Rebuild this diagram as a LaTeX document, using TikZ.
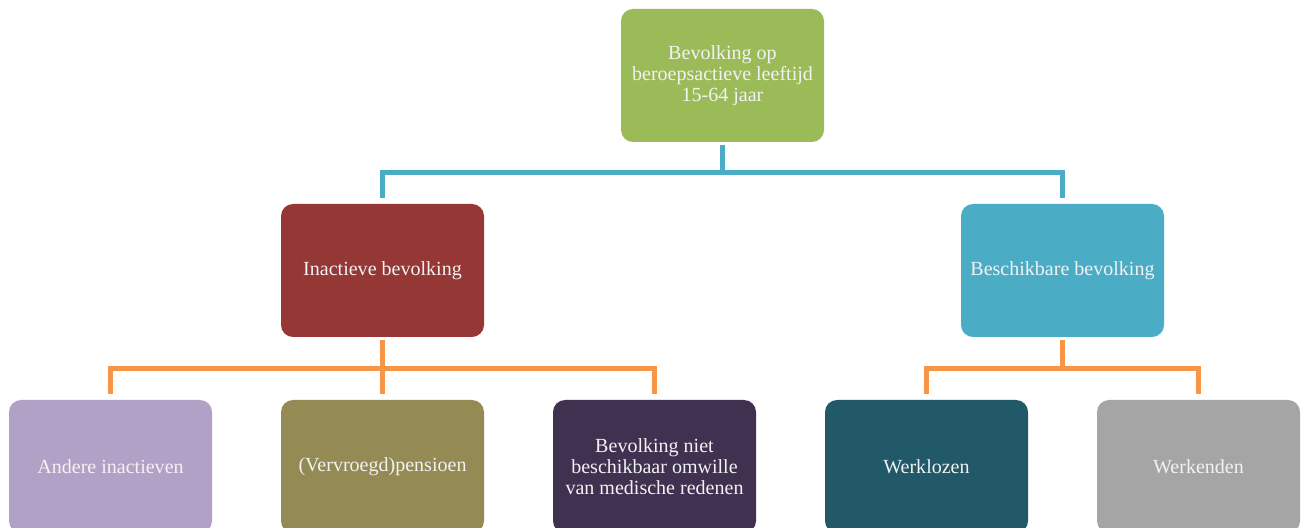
\documentclass[tikz,border=0pt]{standalone}
\usepackage{fontspec}
\setmainfont{Liberation Serif}
\definecolor{groen}{HTML}{9BBB59}
\definecolor{rood}{HTML}{953735}
\definecolor{blauw}{HTML}{4BACC6}
\definecolor{oranje}{HTML}{F79646}
\definecolor{lila}{HTML}{B2A1C7}
\definecolor{olijf}{HTML}{948A54}
\definecolor{paars}{HTML}{403151}
\definecolor{petrol}{HTML}{215968}
\definecolor{grijs}{HTML}{A5A5A5}
\begin{document}
\begin{tikzpicture}
    \tikzstyle{blok}=[rectangle,rounded corners=0.24cm,minimum width=4.06cm,minimum height=2.66cm,inner sep=2pt,text=white!95!black,align=center,font=\fontsize{11.4}{12}\selectfont]
    \tikzstyle{lijn}=[line width=2.8pt,shorten <=0.06cm,shorten >=0.12cm]
    \clip (0,0) rectangle (26.14,10.56);
    \node (top)[blok,fill=groen] at (14.45,9.05) {Bevolking op\\beroepsactieve leeftijd\\15-64 jaar};
    \node (inact)[blok,fill=rood] at (7.65,5.15) {Inactieve bevolking};
    \node (besch)[blok,fill=blauw] at (21.25,5.15) {Beschikbare bevolking};
    \node (ander)[blok,fill=lila] at (2.21,1.23) {Andere inactieven};
    \node (pens)[blok,fill=olijf] at (7.65,1.23) {(Vervroegd)pensioen};
    \node (medisch)[blok,fill=paars] at (13.09,1.23) {Bevolking niet\\beschikbaar omwille\\van medische redenen};
    \node (werkl)[blok,fill=petrol] at (18.53,1.23) {Werklozen};
    \node (werk)[blok,fill=grijs] at (23.97,1.23) {Werkenden};
    \draw [lijn, blauw] (top.south) -- ++(0,-0.6) -| (inact.north);
    \draw [lijn, blauw] (top.south) -- ++(0,-0.6) -| (besch.north);
    \draw [lijn, oranje] (inact.south) -- ++(0,-0.62) -| (ander.north);
    \draw [lijn, oranje] (inact.south) -- ++(0,-0.62) -| (pens.north);
    \draw [lijn, oranje] (inact.south) -- ++(0,-0.62) -| (medisch.north);
    \draw [lijn, oranje] (besch.south) -- ++(0,-0.62) -| (werkl.north);
    \draw [lijn, oranje] (besch.south) -- ++(0,-0.62) -| (werk.north);
\end{tikzpicture}
\end{document}
